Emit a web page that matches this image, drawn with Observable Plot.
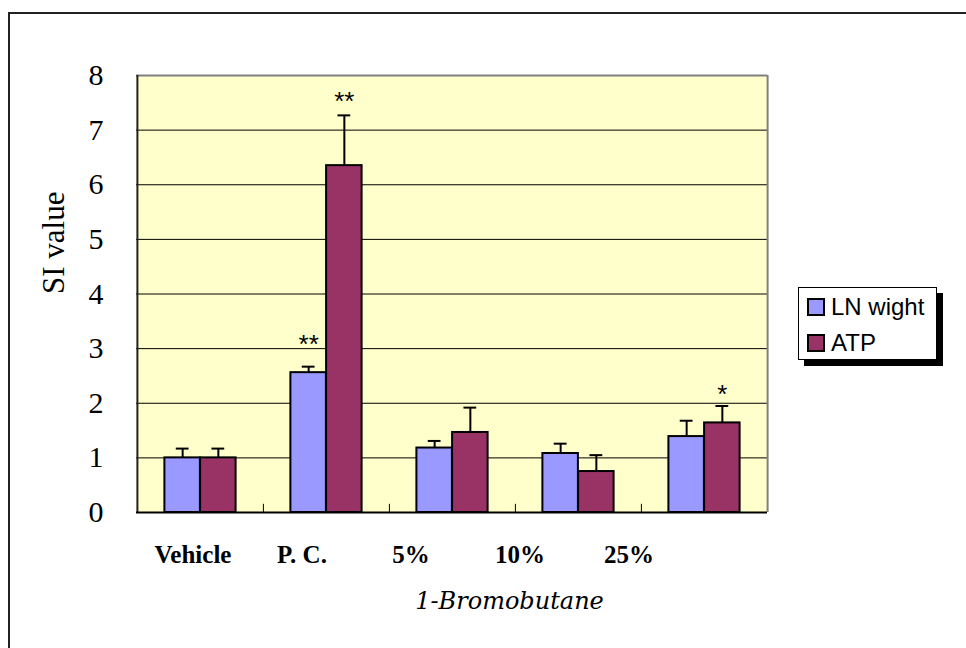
<!DOCTYPE html>
<html>
<head>
<meta charset="utf-8">
<script src="https://cdn.jsdelivr.net/npm/d3@7"></script>
<script src="https://cdn.jsdelivr.net/npm/@observablehq/plot@0.6"></script>
<style>
  html, body { margin: 0; padding: 0; width: 966px; height: 648px; overflow: hidden; background: #fff; }
  #wrap { position: relative; width: 966px; height: 648px; }
  #wrap > svg, #wrap > figure { position: absolute; left: 0; margin: 0; }
  #outer { position: absolute; left: 8px; top: 12px; width: 1100px; height: 800px;
           border-left: 2px solid #222; border-top: 2px solid #222; z-index: 5; pointer-events: none; }
  #legend { position: absolute; left: 798px; top: 287px; width: 139px; height: 73px; box-sizing: border-box;
            border: 1px solid #000; background: #fff; box-shadow: 6px 6px 0 #000; z-index: 6;
            font-family: Arial, "Liberation Sans", sans-serif; font-size: 24px; }
  .item { position: absolute; left: 8px; height: 24px; display: flex; align-items: center; }
  .sw { width: 14px; height: 14px; border: 2px solid #000; margin-right: 6px; }
</style>
</head>
<body>
<div id="wrap"><div id="outer"></div></div>
<script>
// ---- data ----
const categories = ["Vehicle", "P. C.", "5%", "10%", "25%"];
const seriesNames = ["LN wight", "ATP"];
const seriesColors = ["#9999FF", "#993366"];
const lnValues = [1.00, 2.56, 1.18, 1.08, 1.39];
const lnSD     = [0.17, 0.11, 0.13, 0.18, 0.29];
const atpValues = [1.00, 6.35, 1.465, 0.75, 1.64];
const atpSD     = [0.17, 0.92, 0.455, 0.30, 0.31];
const yTicks = [0, 1, 2, 3, 4, 5, 6, 7, 8];
const starCats   = ["P. C.", "P. C.", "25%"];
const starSeries = ["LN wight", "ATP", "ATP"];
const starText   = ["**", "**", "*"];
const starY      = [3.08, 7.53, 2.16];
const xTitle = "1-Bromobutane";
const yTitle = "SI value";

// ---- layout ----
const W = 966, H = 648;
const mL = 136, mT = 75, mR = 199, mB = 136;
const band = (W - mL - mR) / categories.length;
const half = band / 2;
const barW = 35.7;
const capHalf = 6.5;

const rows = categories.flatMap((c, i) => [
  {cat: c, series: seriesNames[0], value: lnValues[i], sd: lnSD[i]},
  {cat: c, series: seriesNames[1], value: atpValues[i], sd: atpSD[i]}
]);
const lnRows = rows.filter(d => d.series === seriesNames[0]);
const atpRows = rows.filter(d => d.series === seriesNames[1]);
const stars = starCats.map((c, i) => ({cat: c, series: starSeries[i], text: starText[i], y: starY[i]}));

const serif = "'Liberation Serif', 'Times New Roman', serif";
const sans = "Arial, 'Liberation Sans', sans-serif";

const chart = Plot.plot({
  width: W, height: H,
  marginLeft: mL, marginTop: mT, marginRight: mR, marginBottom: mB,
  style: {background: "transparent", fontFamily: serif, fontSize: "30px", color: "#000"},
  x: {domain: categories, type: "band", padding: 0, axis: null},
  y: {domain: [0, 8], ticks: yTicks, tickSize: 0, tickPadding: 33, label: null, tickFormat: d => String(d)},
  color: {domain: seriesNames, range: seriesColors},
  marks: [
    Plot.frame({fill: "#FFFFCC", stroke: "none"}),
    Plot.gridY(yTicks.filter(t => t > 0 && t < 8), {stroke: "#000", strokeOpacity: 1, strokeWidth: 1}),
    Plot.ruleY([8], {stroke: "#808080", strokeWidth: 2}),
    Plot.ruleX([categories[categories.length - 1]], {dx: half, stroke: "#808080", strokeWidth: 2}),
    Plot.barY(lnRows, {x: "cat", y: "value", fill: "series", stroke: "#000", strokeWidth: 2,
      insetLeft: half - barW, insetRight: half}),
    Plot.barY(atpRows, {x: "cat", y: "value", fill: "series", stroke: "#000", strokeWidth: 2,
      insetLeft: half, insetRight: half - barW}),
    Plot.ruleX(lnRows, {x: "cat", y1: "value", y2: d => d.value + d.sd, dx: -barW / 2, strokeWidth: 2}),
    Plot.ruleX(atpRows, {x: "cat", y1: "value", y2: d => d.value + d.sd, dx: barW / 2, strokeWidth: 2}),
    Plot.tickY(lnRows, {x: "cat", y: d => d.value + d.sd, dx: -barW / 2, insetLeft: half - capHalf, insetRight: half - capHalf, strokeWidth: 2}),
    Plot.tickY(atpRows, {x: "cat", y: d => d.value + d.sd, dx: barW / 2, insetLeft: half - capHalf, insetRight: half - capHalf, strokeWidth: 2}),
    Plot.text(stars.filter(d => d.series === seriesNames[0]), {x: "cat", y: "y", text: "text", dx: -barW / 2,
      fontSize: 26, fontFamily: sans, fill: "#000"}),
    Plot.text(stars.filter(d => d.series === seriesNames[1]), {x: "cat", y: "y", text: "text", dx: barW / 2,
      fontSize: 26, fontFamily: sans, fill: "#000"}),
    Plot.ruleX(categories.slice(1), {x: d => d, dx: -half, y1: 0, y2: 0.15, stroke: "#000", strokeWidth: 1}),
    Plot.ruleX([categories[0]], {dx: -half, stroke: "#222", strokeWidth: 2}),
    Plot.ruleY([0], {stroke: "#000", strokeWidth: 2}),
    Plot.text([yTitle], {frameAnchor: "left", text: d => d, rotate: -90, dx: -82, fontSize: 31, fontFamily: serif, fill: "#000"}),
    Plot.text([xTitle], {frameAnchor: "bottom", text: d => d, dx: 57.5, dy: 96, fontSize: 24,
      fontStyle: "italic", fontFamily: "'DejaVu Serif', serif", fill: "#000"})
  ]
});
chart.style.top = "0px";
document.getElementById("wrap").appendChild(chart);

// x category labels (placed as in the reference, evenly spaced)
const labels = Plot.plot({
  width: W, height: 40,
  marginLeft: 136, marginRight: 282, marginTop: 0, marginBottom: 0,
  style: {background: "transparent", fontFamily: serif, color: "#000"},
  x: {domain: categories, type: "band", padding: 0, axis: null},
  marks: [
    Plot.text(categories, {x: d => d, text: d => d, fontWeight: "bold", fontSize: 25, fontFamily: serif, fill: "#000"})
  ]
});
labels.style.top = "534px";
document.getElementById("wrap").appendChild(labels);

// legend
const legend = document.createElement("div");
legend.id = "legend";
seriesNames.forEach((s, i) => {
  const it = document.createElement("div");
  it.className = "item";
  it.style.top = (7 + i * 36) + "px";
  const sw = document.createElement("div");
  sw.className = "sw";
  sw.style.background = seriesColors[i];
  const tx = document.createElement("span");
  tx.textContent = s;
  it.appendChild(sw); it.appendChild(tx);
  legend.appendChild(it);
});
document.getElementById("wrap").appendChild(legend);
</script>
</body>
</html>
